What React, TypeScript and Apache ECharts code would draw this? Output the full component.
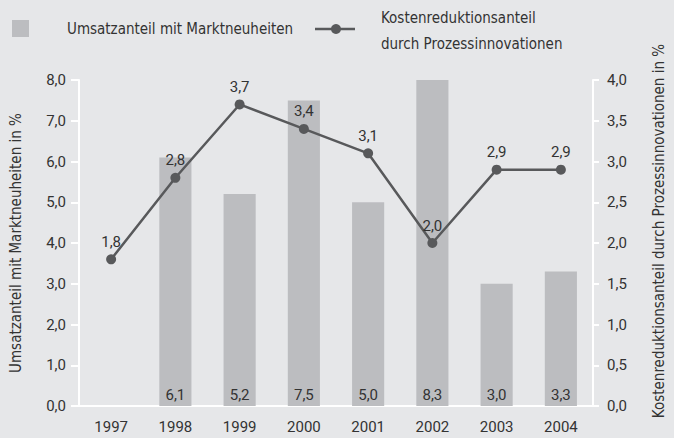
import React, { useEffect, useRef } from "react";
import * as echarts from "echarts";

const years = ["1997", "1998", "1999", "2000", "2001", "2002", "2003", "2004"];
const umsatzanteil: (number | null)[] = [null, 6.1, 5.2, 7.5, 5.0, 8.3, 3.0, 3.3];
const kostenreduktion = [1.8, 2.8, 3.7, 3.4, 3.1, 2.0, 2.9, 2.9];

const BG = "#e6e7e9";
const BAR = "#bcbdc0";
const LINE = "#58595b";
const TXT = "#333333";
const FONT = "'DejaVu Sans Condensed', sans-serif";
const NUMFONT = "Roboto, sans-serif";

const fmt = (v: number) => v.toFixed(1).replace(".", ",");

export default function App() {
  const ref = useRef<HTMLDivElement>(null);
  useEffect(() => {
    if (!ref.current) return;
    const chart = echarts.init(ref.current, undefined, { renderer: "svg" });
    const legendText = (text: string, x: number, y: number) => ({
      type: "text", x, y,
      style: { text, fill: TXT, fontSize: 15, fontFamily: FONT, verticalAlign: "middle", align: "left" },
    });
    chart.setOption({
      animation: false,
      backgroundColor: BG,
      textStyle: { fontFamily: FONT, color: TXT },
      grid: { left: 72, right: 65, top: 80, bottom: 32 },
      graphic: [
        { type: "rect", shape: { x: 12, y: 20, width: 17, height: 17 }, style: { fill: BAR } },
        legendText("Umsatzanteil mit Marktneuheiten", 67, 29),
        { type: "line", shape: { x1: 315, y1: 29, x2: 355, y2: 29 }, style: { stroke: LINE, lineWidth: 2.5 } },
        { type: "circle", shape: { cx: 336, cy: 29, r: 5 }, style: { fill: LINE } },
        legendText("Kostenreduktionsanteil", 381, 18),
        legendText("durch Prozessinnovationen", 381, 44),
      ],
      xAxis: {
        type: "category",
        data: years,
        boundaryGap: true,
        axisLine: { lineStyle: { color: "#ffffff", width: 2 } },
        axisTick: { show: false },
        axisLabel: { color: TXT, fontSize: 15, fontFamily: NUMFONT, margin: 13 },
      },
      yAxis: [
        {
          type: "value", min: 0, max: 8, interval: 1,
          name: "Umsatzanteil mit Marktneuheiten in %",
          nameLocation: "middle", nameGap: 56, nameRotate: 90,
          nameTextStyle: { color: TXT, fontSize: 15, fontFamily: FONT },
          axisLine: { show: true, lineStyle: { color: "#ffffff", width: 2 } },
          axisTick: { show: true, length: 8, lineStyle: { color: "#ffffff", width: 2 } },
          splitLine: { show: false },
          axisLabel: { color: TXT, fontSize: 15, fontFamily: NUMFONT, margin: 13, formatter: (v: number) => fmt(v) },
        },
        {
          type: "value", min: 0, max: 4, interval: 0.5, position: "right",
          name: "Kostenreduktionsanteil durch Prozessinnovationen in %",
          nameLocation: "middle", nameGap: 58, nameRotate: 90,
          nameTextStyle: { color: TXT, fontSize: 15, fontFamily: FONT, padding: [0, 0, 0, 24] },
          axisLine: { show: true, lineStyle: { color: "#ffffff", width: 2 } },
          axisTick: { show: true, length: 6, lineStyle: { color: "#ffffff", width: 2 } },
          splitLine: { show: false },
          axisLabel: { color: TXT, fontSize: 15, fontFamily: NUMFONT, margin: 14, formatter: (v: number) => fmt(v) },
        },
      ],
      series: [
        {
          type: "bar",
          name: "Umsatzanteil mit Marktneuheiten",
          data: umsatzanteil,
          yAxisIndex: 0,
          barWidth: "50%",
          clip: true,
          itemStyle: { color: BAR },
          label: {
            show: true, position: "insideBottom", distance: 4,
            color: TXT, fontSize: 15, fontFamily: NUMFONT,
            formatter: (p: any) => fmt(p.value),
          },
        },
        {
          type: "line",
          name: "Kostenreduktionsanteil",
          data: kostenreduktion,
          yAxisIndex: 1,
          symbol: "circle",
          symbolSize: 10,
          lineStyle: { color: LINE, width: 2.5 },
          itemStyle: { color: LINE },
          label: {
            show: true, position: "top", distance: 5,
            color: TXT, fontSize: 15, fontFamily: NUMFONT,
            formatter: (p: any) => fmt(p.value),
          },
        },
      ],
    });
    return () => chart.dispose();
  }, []);
  return <div ref={ref} style={{ width: 674, height: 438, position: "fixed", left: 0, top: 0 }} />;
}
